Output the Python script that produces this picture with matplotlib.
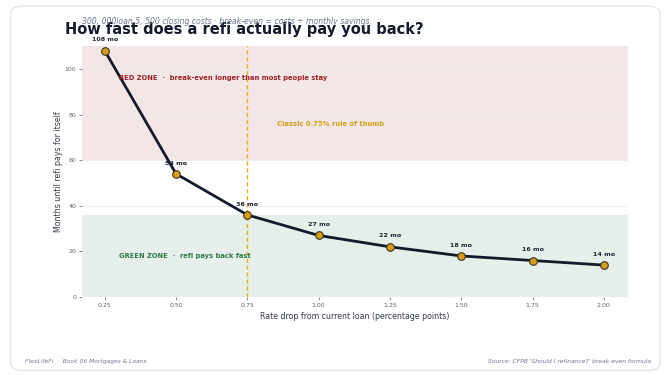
import matplotlib
matplotlib.use("Agg")
import matplotlib.pyplot as plt
from matplotlib.patches import FancyBboxPatch

rate_drop = [0.25, 0.50, 0.75, 1.00, 1.25, 1.50, 1.75, 2.00]
months = [108, 54, 36, 27, 22, 18, 16, 14]
labels = ["108 mo", "54 mo", "36 mo", "27 mo", "22 mo", "18 mo", "16 mo", "14 mo"]
xticks = [0.25, 0.50, 0.75, 1.00, 1.25, 1.50, 1.75, 2.00]
yticks = [0, 20, 40, 60, 80, 100]
red_zone = (60, 110)
green_zone = (0, 36)
rule_x = 0.75

NAVY = "#141b2d"
GOLD = "#d4a017"
RED = "#9b2226"
GREEN = "#2d7a46"
GRAY = "#5a6272"

fig = plt.figure(figsize=(6.66, 3.75), dpi=100)
fig.patch.set_facecolor("white")

card = FancyBboxPatch((0.016, 0.012), 0.975, 0.972, boxstyle="round,pad=0,rounding_size=0.02",
                      transform=fig.transFigure, facecolor="white", edgecolor="#e3e5ee",
                      linewidth=1.0, zorder=-10)
fig.patches.append(card)

ax = fig.add_axes([0.123, 0.208, 0.820, 0.669])
ax.set_facecolor("none")
ax.axhspan(*red_zone, color="#f2e6e6", zorder=0, lw=0)
ax.axhspan(*green_zone, color="#e6efea", zorder=0, lw=0)
ax.axvline(rule_x, color="#e6ac1e", lw=1.0, ls=(0, (3, 2)), zorder=2)

ax.plot(rate_drop, months, color=NAVY, lw=2.0, zorder=3)
ax.scatter(rate_drop, months, s=30, color=GOLD, edgecolor="#3a3320", linewidth=0.8, zorder=4)
for x, y, t in zip(rate_drop, months, labels):
    ax.annotate(t, (x, y), xytext=(0, 6), textcoords="offset points", ha="center", va="bottom",
                fontsize=4.6, fontweight="bold", color="#222833", zorder=5)

ax.text(0.30, 96, "RED ZONE  ·  break-even longer than most people stay", color=RED,
        fontsize=4.9, fontweight="bold", va="center", ha="left")
ax.text(0.855, 76, "Classic 0.75% rule of thumb", color=GOLD,
        fontsize=4.9, fontweight="bold", va="center", ha="left")
ax.text(0.30, 18, "GREEN ZONE  ·  refi pays back fast", color=GREEN,
        fontsize=4.9, fontweight="bold", va="center", ha="left")

ax.set_xlim(0.17, 2.085)
ax.set_ylim(0, 110)
ax.set_xticks(xticks)
ax.set_xticklabels([f"{v:.2f}" for v in xticks])
ax.set_yticks(yticks)
ax.grid(axis="y", color="#e8eaf0", lw=0.6, zorder=0)
ax.set_axisbelow(True)
ax.tick_params(labelsize=4.5, colors=GRAY, length=2, width=0.5, pad=2)
for s in ax.spines.values():
    s.set_visible(False)
ax.set_xlabel("Rate drop from current loan (percentage points)", fontsize=5.7, color="#333a48", labelpad=3)
ax.set_ylabel("Months until refi pays for itself", fontsize=5.7, color="#333a48", labelpad=1)

fig.text(0.097, 0.922, "How fast does a refi actually pay you back?", fontsize=10.5,
         fontweight="bold", color="#141b2d", va="center", ha="left")
fig.text(0.123, 0.942, "300, 000loan 5, 500 closing costs · break-even = costs ÷ monthly savings.",
         fontsize=5.6, style="italic", color="#707890", va="center", ha="left")

fig.text(0.037, 0.037, "FlexLifeFi  ·  Book 06 Mortgages & Loans", fontsize=4.3, style="italic",
         color="#707890", va="center", ha="left")
fig.text(0.978, 0.037, "Source: CFPB 'Should I refinance?' break-even formula", fontsize=4.3,
         style="italic", color="#707890", va="center", ha="right")

fig.savefig("out.png", dpi=100)
